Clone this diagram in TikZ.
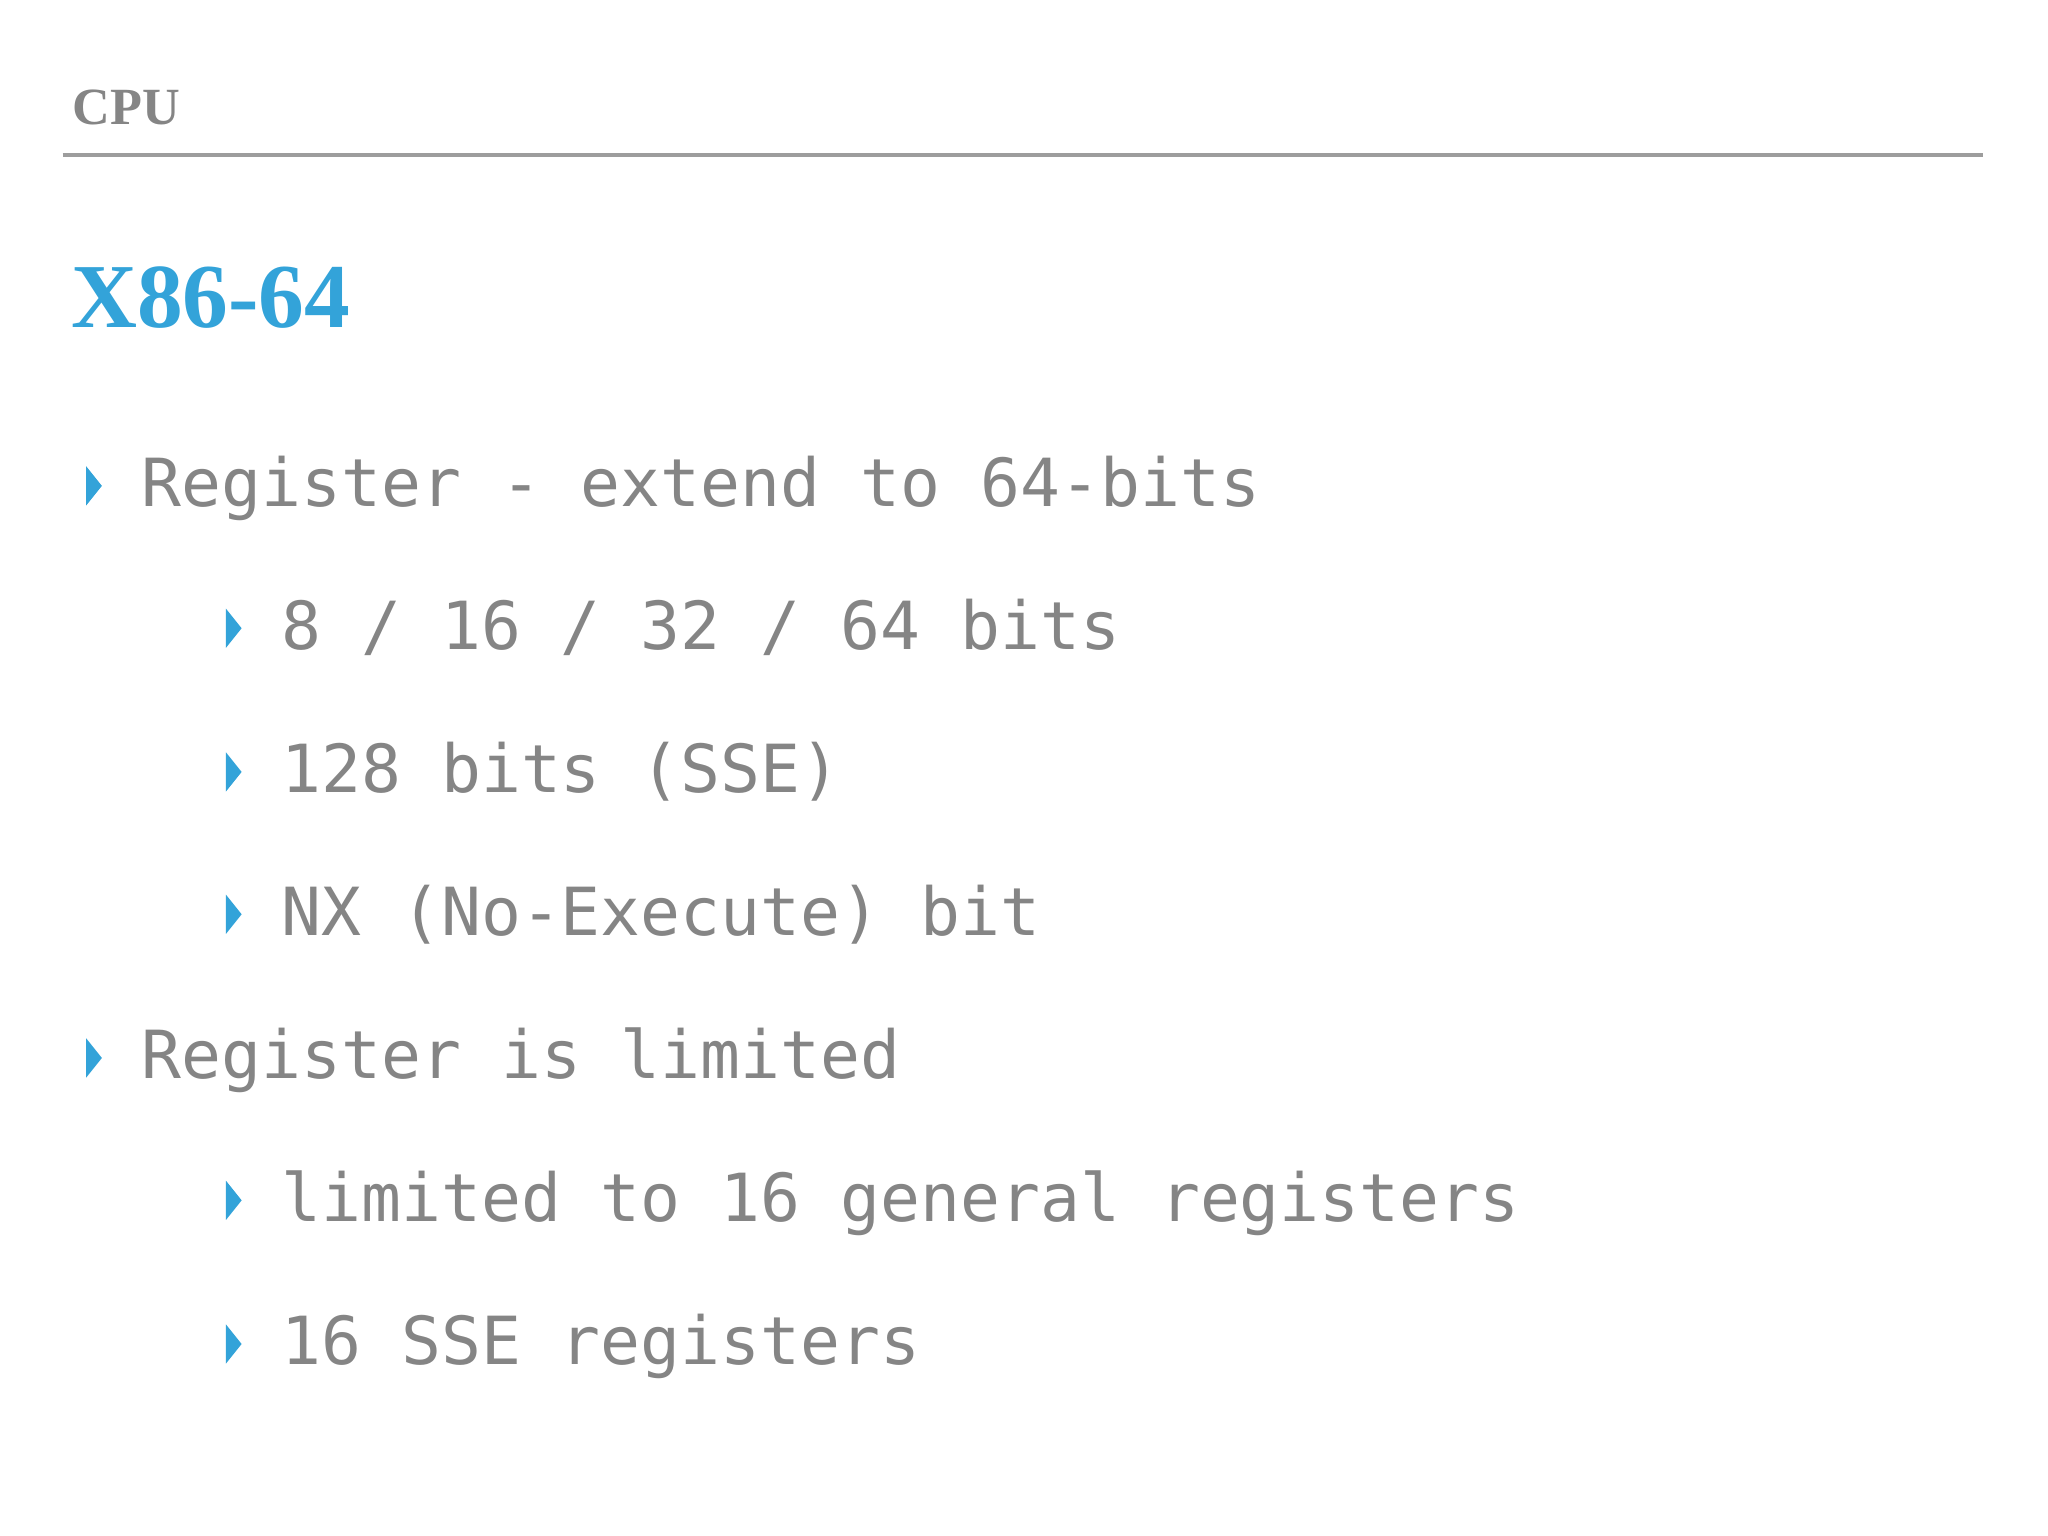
\documentclass[tikz,border=0pt]{standalone}
\usepackage{fontspec}
\usetikzlibrary{calc}
\setmainfont{Liberation Serif}
\newfontfamily\monof{DejaVu Sans Mono}
\definecolor{txt}{HTML}{858585}
\definecolor{accent}{HTML}{33A3D9}
\begin{document}
\begin{tikzpicture}[x=0.5pt,y=-0.5pt,
  item/.style={anchor=base west,inner sep=0,text=txt,font=\monof\fontsize{25.4pt}{30pt}\selectfont},
  tri/.style={fill=accent,draw=none}]
\useasboundingbox (0,0) rectangle (1568,1176);
\node[anchor=base west,inner sep=0,text=txt,font=\bfseries\fontsize{20pt}{24pt}\selectfont] (cpu) at (55,95) {CPU};
\draw[line width=1.5pt,color=txt!80] (48,119) -- (1518,119);
\node[anchor=base west,inner sep=0,text=accent,font=\bfseries\fontsize{35pt}{40pt}\selectfont] (title) at (54,251) {X86-64};
\foreach \x/\y/\t [count=\i] in {
  108/388/{Register - extend to 64-bits},
  215/497/{8 / 16 / 32 / 64 bits},
  215/607/{128 bits (SSE)},
  215/716/{NX (No-Execute) bit},
  108/826/{Register is limited},
  215/935/{limited to 16 general registers},
  215/1045/{16 SSE registers}}{
  \node[item] (t\i) at (\x,\y) {\t};
  \fill[accent] ($(\x-42,\y-31)$) -- ($(\x-30,\y-16)$) -- ($(\x-42,\y-1)$) -- cycle;
}
\end{tikzpicture}
\end{document}
